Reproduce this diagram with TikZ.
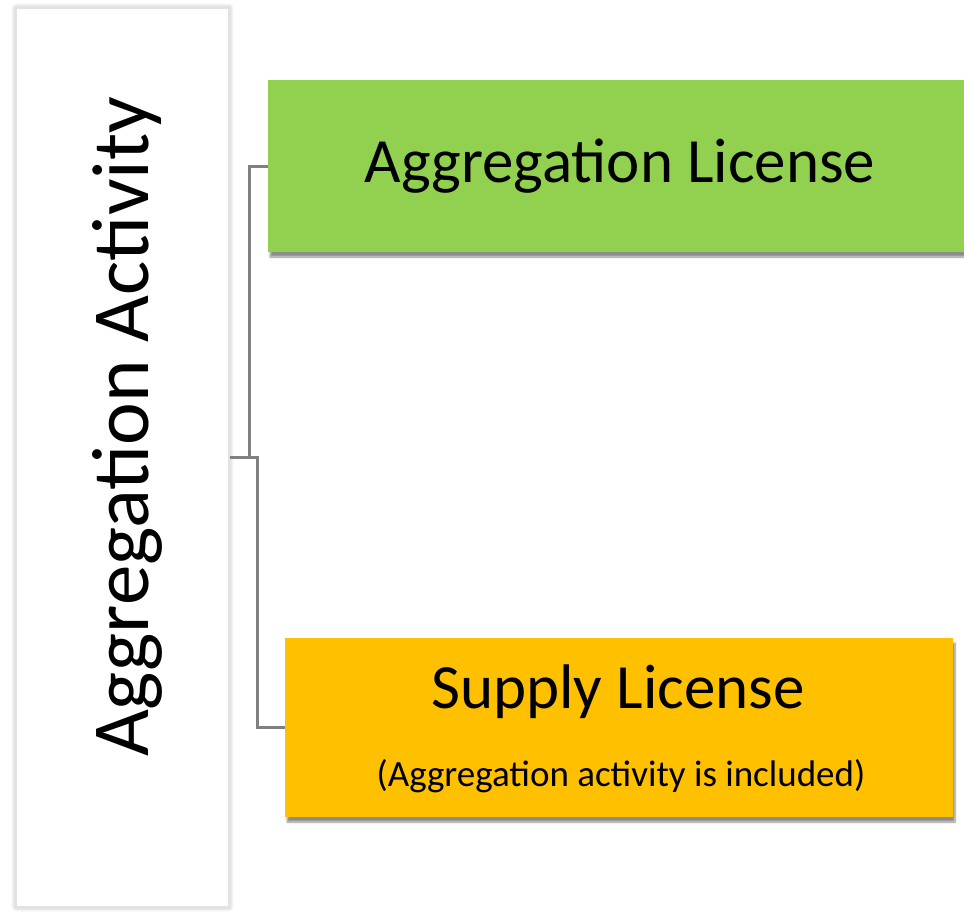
\documentclass[tikz,border=0pt]{standalone}
\usepackage{fontspec}
\setmainfont{Carlito}
\usetikzlibrary{shadows.blur}
\definecolor{aggreen}{HTML}{92D050}
\definecolor{suporange}{HTML}{FFC000}
\definecolor{linkgray}{HTML}{808080}
\definecolor{framegray}{HTML}{E2E2E2}
\tikzset{
  licbox/.style={rectangle, draw=none, inner sep=0pt,
    blur shadow={shadow xshift=2pt, shadow yshift=-5pt, shadow blur steps=8, shadow opacity=45}},
  actbox/.style={rectangle, draw=framegray, line width=2.5pt, fill=white, inner sep=0pt,
    minimum width=213pt, minimum height=899pt,
    blur shadow={shadow xshift=0pt, shadow yshift=0pt, shadow blur radius=5pt, shadow blur steps=8, shadow opacity=35}},
  link/.style={draw=linkgray, line width=3pt},
  bigtext/.style={font=\fontsize{63}{70}\selectfont, inner sep=0pt},
  smalltext/.style={font=\fontsize{37}{42}\selectfont, inner sep=0pt}
}
\begin{document}
\begin{tikzpicture}[x=1pt, y=-1pt]
\useasboundingbox (0,0) rectangle (964,911);
\node[actbox] (act) at (122.5,457.5) {};
\node[bigtext, font=\fontsize{81}{90}\selectfont, rotate=90] (acttext) at (127,427) {Aggregation Activity};
\node[licbox, fill=aggreen, minimum width=700pt, minimum height=172pt] (agg) at (618,166) {};
\node[bigtext] (aggtext) at (620,166) {Aggregation License};
\node[licbox, fill=suporange, minimum width=668pt, minimum height=179pt] (sup) at (619,727.5) {};
\node[bigtext] (suptext) at (618,692) {Supply License};
\node[smalltext] (supsub) at (621,776) {(Aggregation activity is included)};
\coordinate (j1) at (249,457.5);
\coordinate (j2) at (257,457.5);
\draw[link] (act.east) -- (j1) |- (agg.west);
\draw[link] (act.east) -- (j2) |- (sup.west);
\end{tikzpicture}
\end{document}
